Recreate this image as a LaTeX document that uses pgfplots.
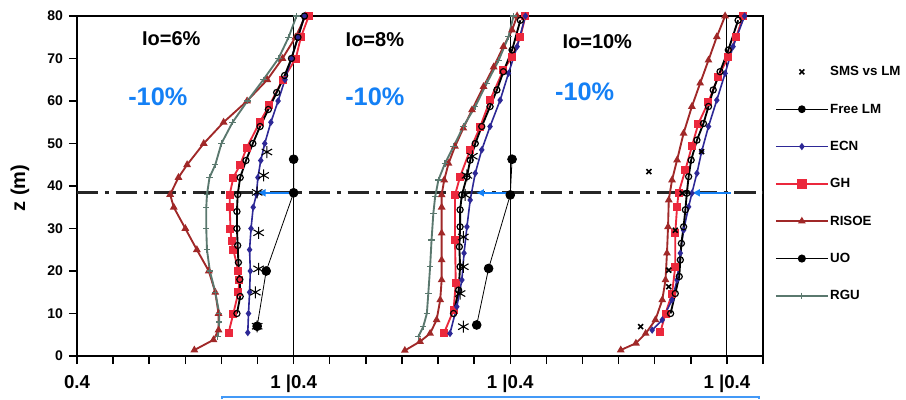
\documentclass[border=0pt]{standalone}
\usepackage{fontspec}
\setmainfont{Liberation Sans}
\usepackage{pgfplots}
\usepackage{pgfplotstable}
\pgfplotsset{compat=1.18}
\usetikzlibrary{arrows.meta}
\definecolor{ecn}{RGB}{45,40,150}
\definecolor{gh}{RGB}{235,40,60}
\definecolor{risoe}{RGB}{160,40,40}
\definecolor{rgu}{RGB}{90,120,110}
\definecolor{txtblue}{RGB}{20,128,245}

% ---------------- Panel 1 (Io=6%) ----------------
\pgfplotstableread{
v z
0.725 1.4
0.778 3.8
0.792 6.1
0.792 10
0.783 15
0.765 20
0.732 25
0.700 30
0.668 35
0.658 38
0.681 42
0.705 45
0.751 50
0.806 55
0.871 60
0.927 65
0.969 70
1.005 75
1.033 80
}\risoeA
\pgfplotstableread{
v z
0.790 4.5
0.794 8
0.794 10
0.783 15
0.768 20
0.760 25
0.758 30
0.758 35
0.760 38
0.767 42
0.783 45
0.800 50
0.831 55
0.872 60
0.916 65
0.958 70
0.986 75
1.008 80
}\rguA
\pgfplotstableread{
v z
0.820 5.5
0.833 10
0.847 15
0.850 18
0.847 20
0.833 25
0.828 27
0.825 30
0.823 35
0.823 38
0.833 42
0.852 45
0.870 49
0.906 55
0.933 59
0.970 65
1.006 70
1.020 75
1.042 80
}\ghA
\pgfplotstableread{
v z
0.843 10
0.852 14
0.851 18
0.847 22
0.845 26
0.843 30
0.843 34
0.845 38
0.852 42
0.868 46
0.887 50
0.907 54
0.930 58
0.953 62
0.975 66
0.994 70
1.012 75
1.030 80
}\uoA
\pgfplotstableread{
v z
0.873 5.5
0.875 10
0.878 15
0.880 20
0.878 25
0.882 30
0.888 35
0.897 38
0.901 42
0.909 46
0.920 50
0.937 55
0.957 60
0.976 65
0.994 70
1.012 75
1.030 80
}\ecnA
\pgfplotstableread{
v z
0.899 7
0.894 15
0.903 20.5
0.903 29
0.899 38.5
0.917 42.5
0.926 48
}\smsA
\pgfplotstableread{
v z
0.899 7
0.924 20
1.000 38.4
1.000 46.3
}\freeA

% ---------------- Panel 2 (Io=8%) ----------------
\pgfplotstableread{
v z
0.708 1.3
0.750 3.4
0.778 5.3
0.796 8.5
0.806 13.2
0.810 17.9
0.810 22.6
0.810 28.9
0.810 35
0.810 37.9
0.817 41.4
0.829 45.3
0.847 49.3
0.870 53.6
0.894 57.9
0.926 63.4
0.954 68
0.981 72.8
1.005 76.7
1.019 80
}\risoeB
\pgfplotstableread{
v z
0.745 4.5
0.759 6.9
0.769 10
0.773 14.7
0.778 21
0.782 27.3
0.787 33.6
0.792 37.5
0.801 41.4
0.819 45.3
0.843 49.3
0.870 54
0.903 58.7
0.935 64.2
0.968 69.6
0.995 75.1
1.009 80
}\rguB
\pgfplotstableread{
v z
0.817 5.5
0.843 10.8
0.849 17.1
0.847 27.3
0.847 37.9
0.861 42.2
0.889 48.5
0.917 54
0.944 60.2
0.981 67.3
1.005 70.4
1.028 75.1
1.042 80
}\ghB
\pgfplotstableread{
v z
0.843 10
0.857 15.5
0.861 21
0.859 25.7
0.861 30.4
0.861 34.4
0.866 37.9
0.880 42.2
0.889 46.1
0.903 50
0.921 54
0.944 58.7
0.963 62.6
0.981 66.9
1.005 72
1.028 79
}\uoB
\pgfplotstableread{
v z
0.833 5.3
0.852 11.6
0.866 17.9
0.872 24.2
0.880 30.4
0.889 36.7
0.903 43
0.921 48.5
0.944 54
0.972 60.2
0.995 66.5
1.019 72.8
1.042 80
}\ecnB
\pgfplotstableread{
v z
0.870 6.9
0.861 14.7
0.870 21
0.870 28
0.875 37.9
0.880 42.5
0.895 47
}\smsB
\pgfplotstableread{
v z
0.907 7.3
0.940 20.6
1.000 37.9
1.005 46.3
}\freeB

% ---------------- Panel 3 (Io=10%) ----------------
\pgfplotstableread{
v z
0.706 1.4
0.748 3
0.775 5.3
0.802 8.5
0.821 13.2
0.830 17.9
0.834 24.2
0.837 30.4
0.839 36.7
0.848 41.4
0.862 46.1
0.880 52.4
0.903 58.7
0.926 64.2
0.949 69.6
0.972 75.1
0.995 80
}\risoeC
\pgfplotstableread{
v z
0.816 5.7
0.830 10
0.848 14.7
0.857 21
0.857 28.9
0.862 35.1
0.866 38.3
0.885 43.8
0.903 49.3
0.921 54.7
0.949 59.8
0.976 65.7
1.004 70.4
1.026 75.1
1.045 80
}\ghC
\pgfplotstableread{
v z
0.844 10
0.857 14.7
0.868 18.7
0.871 22.6
0.874 26.5
0.880 30.4
0.885 34.4
0.889 38.3
0.894 42.2
0.901 46.1
0.917 50.8
0.935 54.7
0.949 58.7
0.962 62.6
0.981 66.9
1.004 72
1.031 79
}\uoC
\pgfplotstableread{
v z
0.793 6.1
0.821 8.5
0.848 13.2
0.862 17.9
0.871 24.2
0.880 29.6
0.894 35.1
0.903 38.3
0.917 43
0.930 48.1
0.949 54
0.972 60.2
0.995 66.5
1.017 72.8
1.049 80
}\ecnC
\pgfplotstableread{
v z
0.761 6.9
0.839 16.3
0.839 20.2
0.857 29.6
0.876 38.3
0.784 43.4
0.930 48.1
}\smsC

\pgfplotsset{
  risoestyle/.style={risoe, line width=1.4pt, mark=triangle*, mark size=2pt, mark options={solid, fill=risoe}},
  rgustyle/.style={rgu, line width=1.4pt, mark=+, mark size=2.4pt, mark options={solid, line width=0.9pt}},
  ghstyle/.style={gh, line width=1.4pt, mark=square*, mark size=2.3pt, mark options={solid, fill=gh}},
  uostyle/.style={black, line width=1.4pt, mark=o, mark size=2.3pt, mark options={solid, fill=white, line width=0.9pt}},
  ecnstyle/.style={ecn, line width=1.2pt, mark=diamond*, mark size=1.8pt, mark options={solid, fill=ecn}},
  freestyle/.style={black, line width=0.6pt, mark=*, mark size=3.3pt, mark options={solid, fill=black}},
  smsstyle/.style={black, only marks, mark=asterisk, mark size=4.5pt, mark options={line width=0.8pt}},
  smsxstyle/.style={black, only marks, mark=x, mark size=2.6pt, mark options={line width=1.2pt}},
}

\begin{document}
\begin{tikzpicture}
\begin{axis}[
  scale only axis, width=514.5pt, height=255pt,
  xmin=0, xmax=1.9, ymin=0, ymax=80,
  clip=false,
  axis line style={line width=1.8pt},
  xtick={0,0.1,0.2,0.3,0.4,0.5,0.6,0.7,0.8,0.9,1.0,1.1,1.2,1.3,1.4,1.5,1.6,1.7,1.8,1.9},
  xticklabels={0.4,,,,,,{1 |0.4},,,,,,{1 |0.4},,,,,,{1 |0.4},},
  ytick={0,10,20,30,40,50,60,70,80},
  tick align=outside, xtick pos=left, ytick pos=left,
  major tick length=6pt,
  tick style={black, line width=1.1pt},
  /pgf/number format/assume math mode=true,
  xticklabel style={font=\fontsize{14}{14}\selectfont\bfseries, yshift=-5pt},
  yticklabel style={font=\fontsize{10.5}{12}\selectfont\bfseries, xshift=-1pt},
  ylabel={z (m)},
  ylabel style={font=\fontsize{15}{15}\selectfont\bfseries, at={(axis description cs:-0.083,0.494)}, anchor=center},
  legend image code/.code={\draw[mark repeat=2,mark phase=2] plot coordinates {(0pt,0pt) (19.5pt,0pt) (39pt,0pt)};},
  legend style={at={(1.017,0.858)}, anchor=north west, draw=none, fill=none, inner sep=0pt,
     font=\fontsize{10}{11}\selectfont\bfseries, row sep=17pt,
     nodes={inner sep=1pt, text height=7.5pt, text depth=1.5pt}},
  legend cell align=left,
]
% legend entries
\addlegendimage{smsxstyle}
\addlegendentry{SMS vs LM}
\addlegendimage{freestyle, mark size=2.6pt}
\addlegendentry{Free LM}
\addlegendimage{ecnstyle}
\addlegendentry{ECN}
\addlegendimage{ghstyle, mark size=3pt}
\addlegendentry{GH}
\addlegendimage{risoestyle}
\addlegendentry{RISOE}
\addlegendimage{black, line width=1.4pt, mark=*, mark size=2.3pt}
\addlegendentry{UO}
\addlegendimage{rgustyle}
\addlegendentry{RGU}

% tick marks drawn as combs (outward)
\addplot[black, line width=1.1pt, ycomb, no markers, forget plot] coordinates {
(0,-1.9) (0.1,-1.9) (0.2,-1.9) (0.3,-1.9) (0.4,-1.9) (0.5,-1.9) (0.6,-1.9) (0.7,-1.9) (0.8,-1.9) (0.9,-1.9)
(1.0,-1.9) (1.1,-1.9) (1.2,-1.9) (1.3,-1.9) (1.4,-1.9) (1.5,-1.9) (1.6,-1.9) (1.7,-1.9) (1.8,-1.9) (1.9,-1.9)};
\addplot[black, line width=1.1pt, xcomb, no markers, forget plot] coordinates {
(-0.016,0) (-0.016,10) (-0.016,20) (-0.016,30) (-0.016,40) (-0.016,50) (-0.016,60) (-0.016,70) (-0.016,80)};

% reference lines
\addplot[black, line width=0.8pt, forget plot] coordinates {(0.6,0) (0.6,80)};
\addplot[black, line width=0.8pt, forget plot] coordinates {(1.2,0) (1.2,80)};
\addplot[black, line width=0.8pt, forget plot] coordinates {(1.8,0) (1.8,80)};
\addplot[black!85, line width=2.2pt, dash pattern=on 16pt off 5pt on 3pt off 5pt, forget plot] coordinates {(0,38.4) (1.9,38.4)};

% panel 1
\addplot[risoestyle, forget plot] table[x expr=\thisrow{v}-0.4, y=z] {\risoeA};
\addplot[rgustyle, forget plot] table[x expr=\thisrow{v}-0.4, y=z] {\rguA};
\addplot[ghstyle, forget plot] table[x expr=\thisrow{v}-0.4, y=z] {\ghA};
\addplot[ecnstyle, forget plot] table[x expr=\thisrow{v}-0.4, y=z] {\ecnA};
\addplot[uostyle, forget plot] table[x expr=\thisrow{v}-0.4, y=z] {\uoA};
\addplot[freestyle, forget plot] table[x expr=\thisrow{v}-0.4, y=z] {\freeA};
\addplot[smsstyle, forget plot] table[x expr=\thisrow{v}-0.4, y=z] {\smsA};

% panel 2
\addplot[risoestyle, forget plot] table[x expr=\thisrow{v}+0.2, y=z] {\risoeB};
\addplot[rgustyle, forget plot] table[x expr=\thisrow{v}+0.2, y=z] {\rguB};
\addplot[ghstyle, forget plot] table[x expr=\thisrow{v}+0.2, y=z] {\ghB};
\addplot[ecnstyle, forget plot] table[x expr=\thisrow{v}+0.2, y=z] {\ecnB};
\addplot[uostyle, forget plot] table[x expr=\thisrow{v}+0.2, y=z] {\uoB};
\addplot[freestyle, forget plot] table[x expr=\thisrow{v}+0.2, y=z] {\freeB};
\addplot[smsstyle, forget plot] table[x expr=\thisrow{v}+0.2, y=z] {\smsB};

% panel 3
\addplot[risoestyle, forget plot] table[x expr=\thisrow{v}+0.8, y=z] {\risoeC};
\addplot[ghstyle, forget plot] table[x expr=\thisrow{v}+0.8, y=z] {\ghC};
\addplot[ecnstyle, forget plot] table[x expr=\thisrow{v}+0.8, y=z] {\ecnC};
\addplot[uostyle, forget plot] table[x expr=\thisrow{v}+0.8, y=z] {\uoC};
\addplot[smsxstyle, forget plot] table[x expr=\thisrow{v}+0.8, y=z] {\smsC};

% blue arrows
\addplot[txtblue, line width=1.5pt, -{Latex[length=6pt,width=6pt]}, forget plot] coordinates {(0.6,38.4) (0.5,38.4)};
\addplot[txtblue, line width=1.5pt, -{Latex[length=6pt,width=6pt]}, forget plot] coordinates {(1.2,38.4) (1.105,38.4)};
\addplot[txtblue, line width=1.5pt, -{Latex[length=6pt,width=6pt]}, forget plot] coordinates {(1.81,38.4) (1.703,38.4)};

% annotations
\node[font=\fontsize{15}{15}\selectfont\bfseries] at (axis cs:0.261,74.6) {Io=6\%};
\node[font=\fontsize{15}{15}\selectfont\bfseries] at (axis cs:0.825,74.4) {Io=8\%};
\node[font=\fontsize{15}{15}\selectfont\bfseries] at (axis cs:1.441,74.0) {Io=10\%};
\node[font=\fontsize{19}{19}\selectfont\bfseries, text=txtblue] at (axis cs:0.224,61.0) {-10\%};
\node[font=\fontsize{19}{19}\selectfont\bfseries, text=txtblue] at (axis cs:0.825,61.0) {-10\%};
\node[font=\fontsize{19}{19}\selectfont\bfseries, text=txtblue] at (axis cs:1.406,62.2) {-10\%};
\end{axis}
\draw[color=txtblue!80, line width=1pt] (108.75pt,-32.25pt) -- (108.75pt,-30.75pt) -- (511.5pt,-30.75pt) -- (511.5pt,-32.25pt);
\path (-57.75pt,-32.25pt) rectangle (621.75pt,267pt);
\end{tikzpicture}
\end{document}
